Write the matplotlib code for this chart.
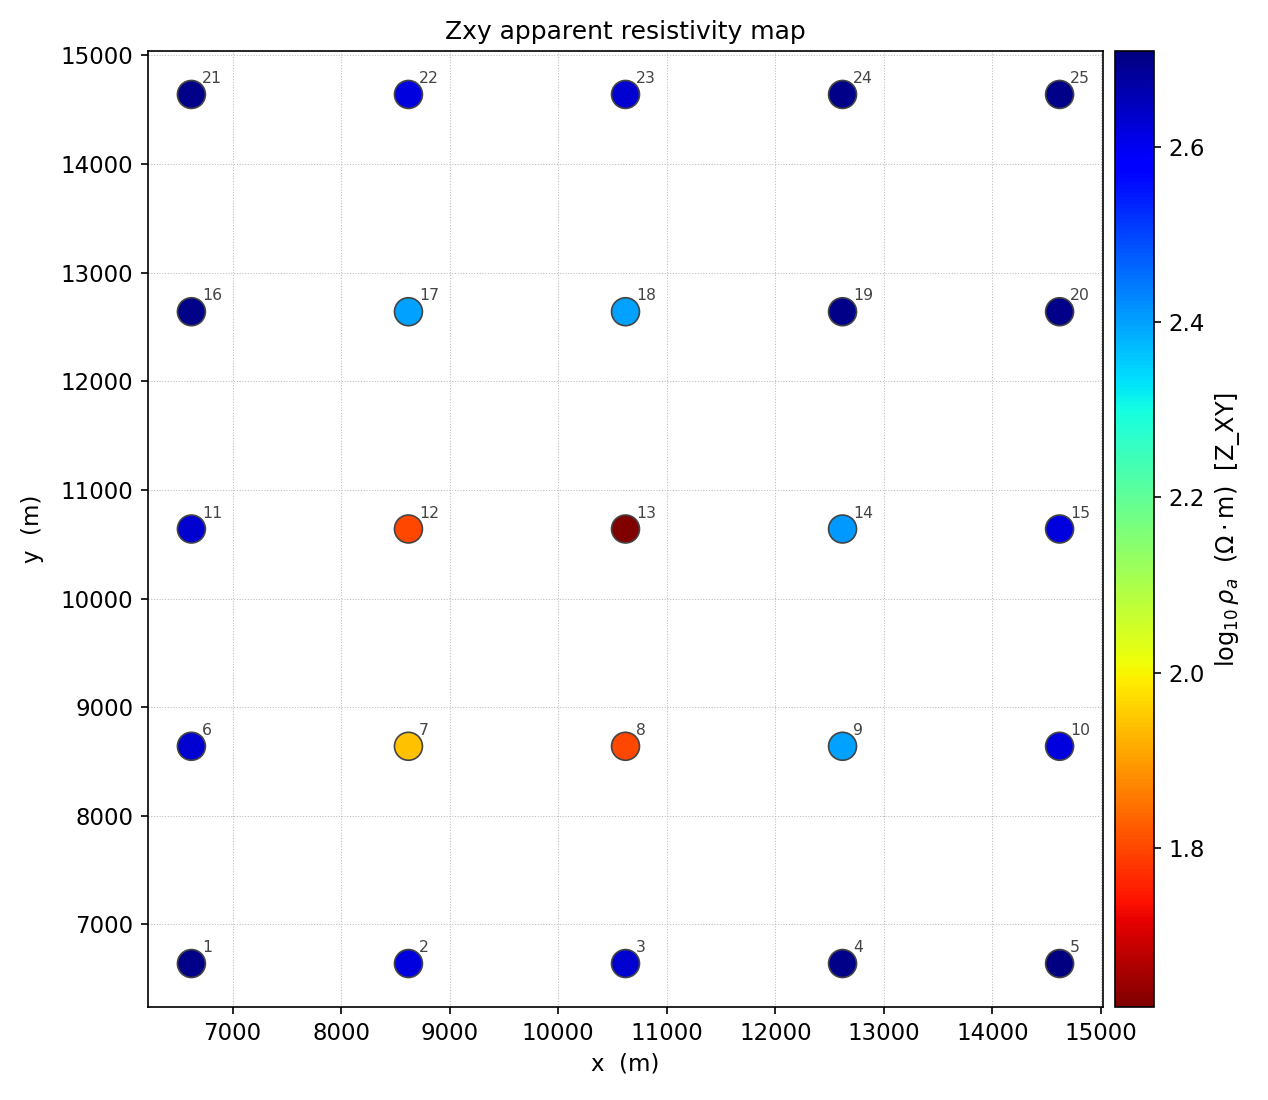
import matplotlib
matplotlib.use("Agg")
import matplotlib.pyplot as plt
import numpy as np

# site positions (m)
site_x = [6620, 8620, 10620, 12620, 14620] * 5
site_y = [6640] * 5 + [8640] * 5 + [10640] * 5 + [12640] * 5 + [14640] * 5
site_id = list(range(1, 26))

# log10 apparent resistivity, Zxy
log_rho = [2.70, 2.62, 2.63, 2.70, 2.71,
           2.63, 1.94, 1.80, 2.40, 2.62,
           2.63, 1.80, 1.618, 2.41, 2.62,
           2.70, 2.40, 2.40, 2.70, 2.70,
           2.70, 2.62, 2.63, 2.70, 2.70]

fig = plt.figure(figsize=(1268 / 150, 1100 / 150), dpi=150)
ax = fig.add_axes([148 / 1268, 1 - 1007 / 1100, 955 / 1268, 956 / 1100])
cax = fig.add_axes([1115 / 1268, 1 - 1007 / 1100, 39 / 1268, 956 / 1100])

sc = ax.scatter(site_x, site_y, c=log_rho, cmap='jet_r', s=180,
                edgecolors='#444444', linewidths=0.8, zorder=3)
for i in range(len(site_id)):
    ax.annotate(str(site_id[i]), (site_x[i], site_y[i]), xytext=(5, 4),
                textcoords='offset points', fontsize=7.5, color='#444444',
                ha='left', va='bottom')

ax.grid(True, linestyle=':', linewidth=0.5, color='#bbbbbb', zorder=0)
ax.set_title('Zxy apparent resistivity map', fontsize=12)
ax.set_xlabel('x  (m)', fontsize=11)
ax.set_ylabel('y  (m)', fontsize=11, labelpad=8)
ax.tick_params(labelsize=11)

cb = fig.colorbar(sc, cax=cax)
cb.set_ticks([1.8, 2.0, 2.2, 2.4, 2.6])
cb.ax.tick_params(labelsize=11)
cb.set_label(r'$\log_{10}\rho_a$  $(\Omega\cdot\mathrm{m})$  [Z_XY]', fontsize=11.5)

fig.savefig('out.png', dpi=150)
